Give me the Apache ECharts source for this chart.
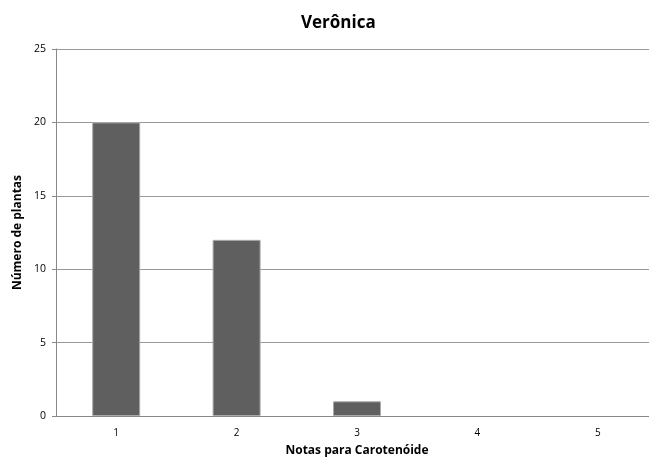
<!DOCTYPE html>
<html><head><meta charset="utf-8">
<script src="https://cdn.jsdelivr.net/npm/echarts@6/dist/echarts.min.js"></script>
<style>html,body{margin:0;padding:0;background:#fff;overflow:hidden;width:649px;height:462px}#c{width:670px;height:462px}</style>
</head><body><div id="c"></div>
<script>
const categories = ['1', '2', '3', '4', '5'];
const values = [20, 12, 1, 0, 0];
const yTicks = [0, 5, 10, 15, 20, 25];
const titleText = 'Verônica';
const xName = 'Notas para Carotenóide';
const yName = 'Número de plantas';

const chart = echarts.init(document.getElementById('c'));
const font = '"Open Sans", "Liberation Sans", sans-serif';
chart.setOption({
  animation: false,
  title: {
    text: titleText, left: 296, top: 10,
    textStyle: { fontFamily: font, fontSize: 17, fontWeight: 'bold', color: '#000' }
  },
  grid: { left: 56, width: 602, top: 49, bottom: 46, containLabel: false },
  xAxis: {
    type: 'category', data: categories,
    name: xName, nameLocation: 'middle', nameGap: 29,
    nameTextStyle: { fontFamily: font, fontSize: 12, fontWeight: 'bold', color: '#000' },
    axisLine: { lineStyle: { color: '#888' } },
    axisTick: { show: false },
    axisLabel: { fontFamily: font, fontSize: 10, color: '#000', margin: 12 }
  },
  yAxis: {
    type: 'value', min: yTicks[0], max: yTicks[yTicks.length - 1], interval: 5,
    name: yName, nameLocation: 'middle', nameGap: 30,
    nameTextStyle: { fontFamily: font, fontSize: 12, fontWeight: 'bold', color: '#000' },
    axisLine: { show: true, lineStyle: { color: '#888' } },
    axisTick: { show: true, length: 4, lineStyle: { color: '#888' } },
    axisLabel: { fontFamily: font, fontSize: 10.5, color: '#000', margin: 10 },
    splitLine: { lineStyle: { color: '#999' } }
  },
  series: [{
    type: 'bar', barWidth: 48,
    data: values.map(v => v === 0 ? { value: v, itemStyle: { borderWidth: 0, opacity: 0 } } : v),
    itemStyle: { color: '#5f5f5f', borderColor: '#aaa', borderWidth: 1 }
  }]
});
</script></body></html>
